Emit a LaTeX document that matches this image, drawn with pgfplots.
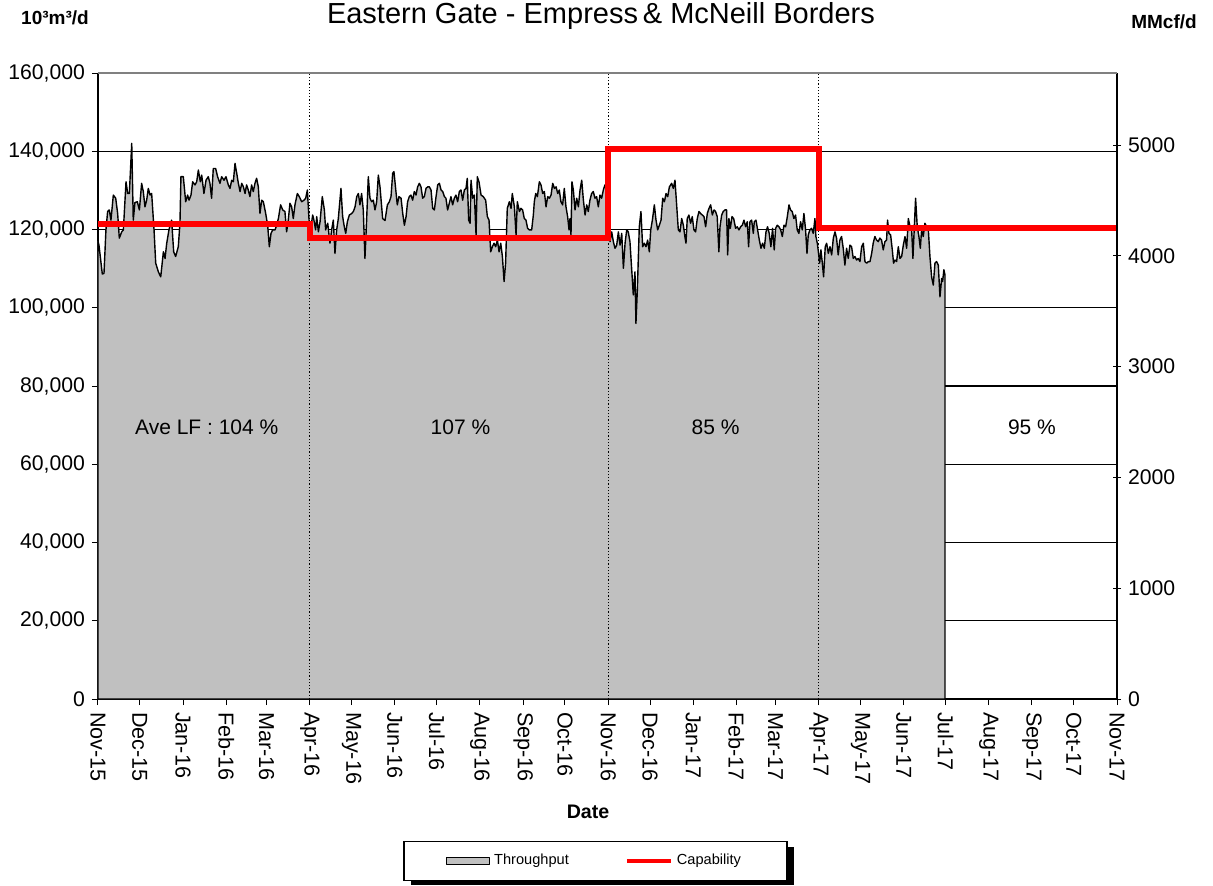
\documentclass[border=0pt]{standalone}
\usepackage{fontspec}
\setmainfont{Liberation Sans}
\usepackage{pgfplots}
\pgfplotsset{compat=1.18}
\definecolor{areagray}{RGB}{192,192,192}
\definecolor{capred}{RGB}{255,0,0}

\begin{document}
\begin{tikzpicture}
\path[use as bounding box] (-49pt,-93pt) rectangle (557.5pt,349.5pt);
% legend shadow, drawn first so it sits behind the legend box
\fill[black] (156.5pt,-74pt) rectangle (348pt,-93pt);
\begin{axis}[
  name=main, at={(0,0)}, anchor=south west,
  scale only axis, width=509.5pt, height=313pt,
  xmin=0, xmax=731, ymin=0, ymax=160000,
  axis x line*=bottom, axis y line*=left,
  axis line style={black, line width=0.6pt},
  tick style={black, line width=0.5pt},
  major tick length=3pt, tick align=outside,
  xtick={0,30,61,92,121,152,182,213,243,274,305,335,366,396,427,458,486,517,547,578,608,639,670,700,731},
  xticklabels={Nov-15,Dec-15,Jan-16,Feb-16,Mar-16,Apr-16,May-16,Jun-16,Jul-16,Aug-16,Sep-16,Oct-16,Nov-16,Dec-16,Jan-17,Feb-17,Mar-17,Apr-17,May-17,Jun-17,Jul-17,Aug-17,Sep-17,Oct-17,Nov-17},
  xticklabel style={rotate=-90, anchor=west, font=\fontsize{10.8}{12}\selectfont},
  ytick={0,20000,...,160000},
  scaled y ticks=false,
  /pgf/number format/fixed,
  /pgf/number format/precision=0,
  /pgf/number format/1000 sep={,},
  /pgf/number format/assume math mode=true,
  yticklabel style={font=\fontsize{10.6}{12}\selectfont},
  ymajorgrids, grid style={black, line width=0.55pt},
  legend style={at={(0.4882,-0.2588)}, anchor=center, draw=black, line width=0.6pt,
    fill=white, font=\fontsize{7.3}{8}\selectfont, inner xsep=21pt, inner ysep=4.5pt,
    /tikz/every even column/.append style={column sep=26pt}},
  legend columns=2, legend cell align=left,
]
\addplot[fill=areagray, draw=black, line width=0.7pt, line join=round,
  legend image code/.code={\draw[fill=areagray, draw=black, line width=0.6pt] (0pt,-1.75pt) rectangle (21.5pt,1.75pt);}]
coordinates {
(0,117000)(0.7,116000)(3.1,108600)(4.3,108800)(5.7,119900)(6.9,124600)(8.1,125000)(9.3,122400)(11.0,128800)(12.7,128000)(14.1,124100)(15.3,117800)(17.0,119400)(18.2,119900)(20.1,132200)(21.3,129200)(22.5,129200)(24.2,142000)(25.3,122400)(26.5,126900)(28.2,127100)(29.7,125000)(31.3,131800)(32.5,129700)(33.7,125800)(34.9,127500)(36.1,130500)(37.3,128800)(38.5,129200)(40.2,119900)(41.4,111400)(43.3,109200)(45.0,107900)(46.9,114300)(48.1,112600)(49.3,116500)(50.9,119900)(52.8,122400)(54.3,114300)(55.7,113100)(57.6,115600)(58.8,121600)(59.5,133500)(61.2,133500)(62.9,127100)(64.3,128800)(65.3,127500)(66.7,128800)(67.9,132200)(69.6,131400)(70.8,132200)(72.0,135200)(73.4,132200)(74.4,133900)(76.0,129200)(77.5,132600)(79.1,133500)(80.3,131800)(81.5,128000)(82.7,135600)(84.4,135600)(85.8,133500)(87.5,131800)(88.7,133500)(90.4,132600)(91.8,133500)(93.5,131400)(94.7,130500)(95.9,132600)(97.1,132200)(98.3,136900)(99.5,134400)(100.7,131800)(101.9,129700)(103.1,131800)(104.3,130900)(105.5,129200)(106.6,131400)(107.8,130100)(109.0,128400)(110.2,131400)(111.4,129700)(112.6,131800)(113.8,133100)(115.0,130900)(116.2,124100)(117.4,127500)(118.6,127100)(120.3,124100)(121.7,121100)(122.9,115600)(124.1,119000)(125.3,119900)(127.0,119900)(128.2,121100)(129.4,122800)(131.0,126300)(132.5,125000)(134.1,124600)(135.3,119400)(136.5,122400)(137.7,126700)(138.9,125800)(140.1,122800)(141.3,126300)(143.0,129200)(144.4,128400)(146.1,127100)(147.8,127500)(149.0,128000)(150.2,130100)(151.4,122400)(152.8,120700)(154.0,123700)(154.9,122400)(156.1,119900)(156.9,123300)(158.1,119400)(159.3,122000)(160.9,128400)(162.4,125000)(163.3,119900)(164.8,121600)(166.4,116500)(167.6,119900)(168.8,122400)(170.0,113900)(171.2,119900)(172.4,122800)(174.3,130500)(175.5,123300)(176.7,120700)(177.7,119000)(178.9,122000)(180.3,123700)(182.0,124100)(183.2,124600)(184.4,125800)(185.6,128400)(186.8,129200)(187.9,126300)(189.1,129200)(190.3,125000)(191.5,112600)(192.7,122400)(193.9,133500)(195.1,128000)(196.3,127100)(197.5,127500)(198.7,125000)(199.9,127100)(201.1,133900)(202.3,130900)
(204.2,122800)(205.9,122300)(207.6,126300)(209.0,127100)(210.2,128400)(211.4,134400)(212.3,134800)(213.5,130500)(214.7,126300)(215.9,128400)(217.4,128000)(218.6,124100)(219.8,121100)(221.0,123300)(222.1,127100)(223.3,128400)(224.5,128800)(225.7,127500)(226.9,129700)(228.1,128800)(229.3,130900)(230.5,131800)(231.7,130900)(232.9,128000)(234.1,128400)(235.3,130500)(236.5,130900)(237.7,130900)(238.9,130100)(240.1,125400)(241.3,125000)(242.5,128400)(243.7,131400)(244.9,131800)(246.1,130100)(247.3,129700)(248.5,128400)(249.6,128000)(250.8,125000)(252.0,126700)(253.2,128400)(254.4,126300)(255.6,128000)(256.8,128800)(258.0,127100)(259.2,129700)(260.4,130100)(261.6,127500)(262.8,130100)(264.0,130500)(264.9,133100)(265.9,122400)(266.9,121600)(267.6,132600)(268.8,128000)(270.0,128800)(271.2,118600)(272.1,133500)(273.3,132200)(274.8,128800)(276.4,128400)(278.1,127500)(279.3,123300)(280.5,122400)(281.7,114300)(282.9,115600)(284.1,116500)(285.3,115600)(286.5,117300)(287.7,114300)(288.9,116500)(290.1,113100)(291.3,106700)(292.4,111400)(293.6,125400)(295.1,127100)(296.3,125400)(297.2,129200)(298.7,125800)(299.9,118600)(300.8,127100)(302.3,124600)(303.4,125400)(304.6,125000)(305.8,122800)(307.0,122400)(308.2,120300)(309.4,119900)(311.1,119900)(312.3,123700)(313.0,127100)(314.0,129200)(315.2,128400)(316.6,132200)(317.8,131400)(319.0,129200)(320.2,129700)(321.4,125800)(322.6,128400)(323.8,128000)(325.0,128800)(326.2,131800)(327.4,130500)(328.6,130900)(329.8,129200)(330.9,130100)(332.1,127100)(333.3,126300)(334.5,130500)(335.7,125800)(336.9,123300)(337.9,119900)(338.6,122800)(339.3,118600)(340.0,132200)(341.0,130100)(342.2,125000)(343.4,128000)(344.6,125800)(345.8,130100)(347.0,132600)(348.2,127500)(349.4,123700)(350.6,126300)(351.7,124600)(352.9,127500)(354.1,129200)(355.3,129700)(356.5,128000)(357.7,128400)(358.9,125800)(360.1,128800)(361.3,128000)(362.5,130100)(363.7,131400)(364.9,130100)(367.3,116900)(368.5,119400)(369.7,116900)(370.9,115200)(372.1,116000)(373.3,119400)(374.5,116000)(375.7,119000)(376.9,110100)(378.1,116500)(379.3,119900)(380.4,119400)(381.6,116900)(382.8,110100)(384.0,103300)(385.2,109200)(385.9,96000)(386.9,104500)(388.3,120700)(389.5,124600)(390.7,115600)(391.9,116500)(393.1,115600)(394.3,117300)(395.5,114300)(396.5,119900)(397.7,122400)(399.1,126300)(400.3,122400)(401.5,119900)(402.7,121100)(403.9,122400)(405.1,128000)(406.3,127100)(407.5,129200)(408.7,128400)(409.9,130900)
(411.5,131800)(412.7,130500)(413.9,132600)(415.1,126300)(416.3,119900)(417.5,119400)(418.7,122800)(419.9,121100)(421.0,118200)(421.8,116500)(422.7,122800)(423.9,123700)(425.1,121600)(426.3,123300)(427.5,119900)(428.7,119400)(429.9,122800)(431.1,124600)(432.3,124100)(433.5,123700)(434.7,123300)(435.9,120700)(437.1,124100)(438.3,125400)(439.5,126300)(440.7,123700)(441.9,125000)(443.0,124600)(444.2,123300)(445.4,114300)(446.2,120700)(447.4,123700)(448.5,124600)(449.7,125000)(450.9,125000)(451.7,113500)(452.6,122800)(453.6,120300)(454.8,123300)(456.0,122800)(457.4,120300)(458.6,120700)(459.8,119900)(461.0,120700)(462.2,121100)(463.4,122400)(464.6,120700)(465.8,122000)(466.7,115600)(467.7,122000)(468.9,122400)(470.1,119000)(470.8,122000)(472.0,122400)(473.2,119900)(474.4,117300)(475.6,115200)(476.8,116500)(478.0,115200)(479.2,119400)(480.3,120700)(481.5,119000)(482.7,115600)(483.9,120300)(485.1,114800)(486.1,120300)(487.3,121100)(488.5,120700)(489.7,119900)(490.9,118200)(492.1,121100)(493.3,120700)(494.5,123300)(495.7,126300)(496.8,125000)(498.0,124600)(499.2,122800)(500.4,123700)(501.6,119900)(502.8,119000)(504.0,122000)(505.2,119900)(506.4,124100)(507.6,119900)(508.6,113900)(509.5,118600)(510.7,119900)(511.9,120300)(513.1,119000)(514.3,122800)(515.0,118200)(516.0,116500)(516.9,113900)(517.7,111400)(518.6,114800)(519.6,111400)(520.5,107900)(521.7,115600)(522.7,116500)(523.9,113900)(525.1,115600)(526.3,113500)(527.5,117800)(528.7,119400)(529.8,117800)(531.0,113500)(532.2,117300)(533.4,118200)(534.6,115200)(535.8,110900)(537.0,115200)(538.2,112600)(539.4,116000)(540.6,115600)(541.8,112600)(543.0,113100)(544.2,112200)(545.4,112600)(546.6,111800)(547.8,115600)(549.0,116500)(550.2,111800)(551.4,111400)(552.6,111800)(553.8,111800)(555.0,113900)(556.1,116500)(557.3,118200)(558.5,117300)(559.7,116900)(560.9,117800)(562.1,117300)(563.3,114800)(564.5,116900)(565.7,117300)(566.4,122400)(567.4,119000)(568.6,118600)(569.8,114800)(570.7,111400)(571.7,112200)(572.9,111800)(574.1,115600)(575.3,112600)(576.5,113100)(577.7,116000)(578.9,118200)(580.1,115200)(581.3,122800)(582.5,120700)(583.7,119900)(584.6,112600)(585.6,120700)(586.5,128000)(587.7,120700)(588.9,118200)(589.9,115200)(590.8,119900)(592.0,118200)(593.2,121600)(594.4,120700)(595.6,120300)(596.8,113100)(598.0,107900)(599.2,105800)(600.4,111400)(601.6,111800)(602.8,110900)(604.0,102800)(605.2,107500)(605.9,106700)(606.8,109700)(607.6,108400)
} \closedcycle;
\addlegendentry{Throughput}
\draw[black, line width=0.5pt, dash pattern=on 0.6pt off 1pt] (axis cs:152,0) -- (axis cs:152,160000);
\draw[black, line width=0.5pt, dash pattern=on 0.6pt off 1pt] (axis cs:366,0) -- (axis cs:366,160000);
\draw[black, line width=0.5pt, dash pattern=on 0.6pt off 1pt] (axis cs:517,0) -- (axis cs:517,160000);
\addplot[capred, line width=3pt, line join=miter,
  legend image code/.code={\draw[capred, line width=2pt] (0pt,0pt) -- (22pt,0pt);}]
coordinates {(0,121400)(152,121400)(152,117800)(366,117800)(366,140600)(517,140600)(517,120500)(731,120500)};
\addlegendentry{Capability}
\node[font=\fontsize{10.5}{12}\selectfont] at (axis cs:78,69500) {Ave LF : 104 \%};
\node[font=\fontsize{10.5}{12}\selectfont] at (axis cs:260,69500) {107 \%};
\node[font=\fontsize{10.5}{12}\selectfont] at (axis cs:443,69500) {85 \%};
\node[font=\fontsize{10.5}{12}\selectfont] at (axis cs:670,69500) {95 \%};
\end{axis}
\begin{axis}[
  at={(0,0)}, anchor=south west,
  scale only axis, width=509.5pt, height=313pt,
  xmin=0, xmax=731, ymin=0, ymax=5650.35,
  axis x line=none, axis y line*=right,
  axis line style={black, line width=0.6pt},
  tick style={black, line width=0.5pt},
  major tick length=4pt, tick align=center,
  ytick={0,1000,...,5000},
  /pgf/number format/fixed,
  /pgf/number format/precision=0,
  /pgf/number format/1000 sep={},
  /pgf/number format/assume math mode=true,
  yticklabel style={font=\fontsize{10.6}{12}\selectfont},
]
\end{axis}
\draw[gray, line width=0.9pt] (main.north west) -- (main.north east);
\node[font=\fontsize{14.5}{16}\selectfont, anchor=base] at (251.5pt,337.5pt) {Eastern Gate - Empress\,\& McNeill Borders};
\node[font=\bfseries\fontsize{9.5}{11}\selectfont] at (-21.5pt,340.5pt) {10³m³/d};
\node[font=\bfseries\fontsize{9.5}{11}\selectfont] at (533pt,338.5pt) {MMcf/d};
\node[font=\bfseries\fontsize{9.8}{11}\selectfont] at (245pt,-56.5pt) {Date};
\end{tikzpicture}
\end{document}
